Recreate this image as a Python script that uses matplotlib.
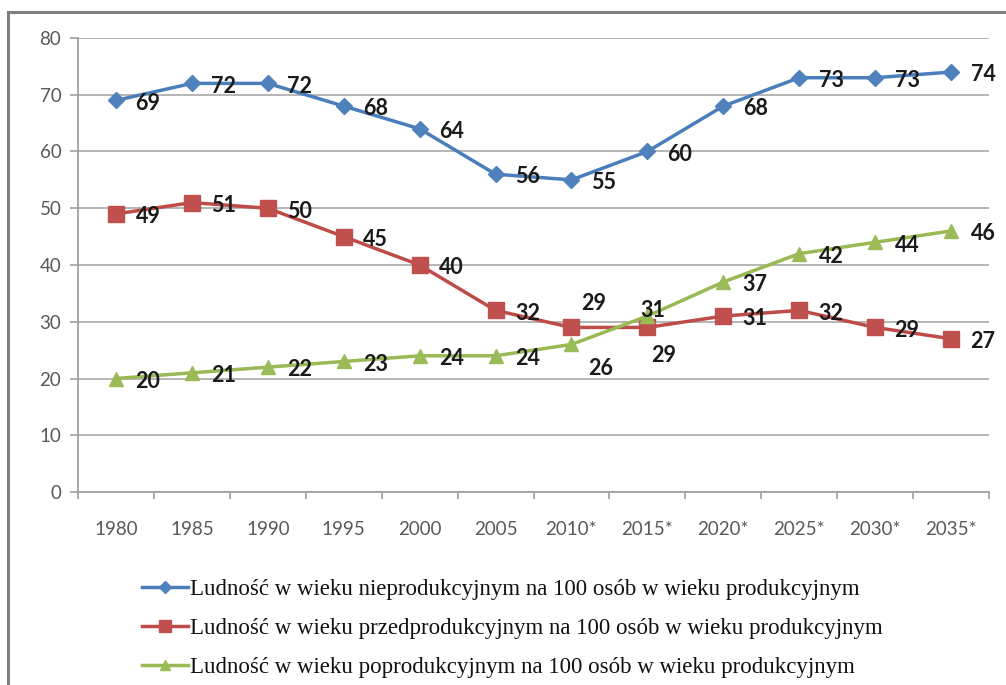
import numpy as np
import matplotlib.pyplot as plt
from matplotlib.lines import Line2D

# dane: liczba osob w wieku nieprodukcyjnym na 100 osob w wieku produkcyjnym
years = ['1980', '1985', '1990', '1995', '2000', '2005',
         '2010*', '2015*', '2020*', '2025*', '2030*', '2035*']
nieprod = [69, 72, 72, 68, 64, 56, 55, 60, 68, 73, 73, 74]
przedprod = [49, 51, 50, 45, 40, 32, 29, 29, 31, 32, 29, 27]
poprod = [20, 21, 22, 23, 24, 24, 26, 31, 37, 42, 44, 46]

labels = ['Ludność w wieku nieprodukcyjnym na 100 osób w wieku produkcyjnym',
          'Ludność w wieku przedprodukcyjnym na 100 osób w wieku produkcyjnym',
          'Ludność w wieku poprodukcyjnym na 100 osób w wieku produkcyjnym']

# przesuniecia etykiet (w punktach), domyslnie na prawo od punktu
default_off = (23, -2)
special_off = {
    ('przed', 6): (16, 17),
    ('przed', 7): (12, -20),
    ('po', 6): (21, -17),
    ('po', 7): (4, 4),
}

W, H = 1006, 685
fig = plt.figure(figsize=(W / 100, H / 100), dpi=100)
ax = fig.add_axes([78 / W, 1 - 492 / H, (989 - 78) / W, (492 - 38) / H])

x = np.arange(len(years))
series = [
    ('nie', nieprod, '#4A7EBB', '#4F81BD', 'D', 8),
    ('przed', przedprod, '#BE4B48', '#C0504D', 's', 11),
    ('po', poprod, '#98B954', '#9BBB59', '^', 10),
]

handles = []
for key, vals, lc, mc, mk, ms in series:
    ax.plot(x, vals, color=lc, lw=2.5, marker=mk, ms=ms, mfc=mc, mec=mc, zorder=3)
    handles.append(Line2D([], [], color=lc, lw=2.5, marker=mk, ms=ms * 0.75,
                          mfc=mc, mec=mc))
    for i, v in enumerate(vals):
        off = special_off.get((key, i), default_off)
        ax.annotate(str(v), (x[i], v), xytext=off, textcoords='offset points',
                    ha='center', va='center', fontsize=15.5, fontweight='bold',
                    family='Lato', color='#1a1a1a', zorder=4,
                    annotation_clip=False)

ax.set_xlim(-0.5, len(years) - 0.5)
ax.set_ylim(0, 80)
ax.set_yticks(range(0, 81, 10))
ax.set_xticks(x)
ax.set_xticklabels(years)
ax.set_xticks(np.arange(-0.5, len(years), 1), minor=True)
ax.tick_params(axis='x', which='major', length=0, pad=21)
ax.tick_params(axis='x', which='minor', length=5, color='#A0A0A0', width=1.2)
ax.tick_params(axis='y', length=6, color='#A0A0A0', width=1.2, pad=6)
for lab in ax.get_xticklabels() + ax.get_yticklabels():
    lab.set_family('Lato')
    lab.set_fontsize(13.5)
    lab.set_color('#595959')

ax.grid(axis='y', color='#B0B0B0', lw=1.3)
ax.set_axisbelow(True)
for s in ['top', 'right']:
    ax.spines[s].set_visible(False)
for s in ['left', 'bottom']:
    ax.spines[s].set_color('#A0A0A0')
    ax.spines[s].set_linewidth(1.3)

fig.legend(handles, labels, loc='upper left', bbox_to_anchor=(142 / W, 1 - 579 / H),
           frameon=False, prop={'family': 'Liberation Serif', 'size': 16.5},
           handlelength=2.0, handletextpad=0.1, labelspacing=0.78,
           borderpad=0, borderaxespad=0, labelcolor='#111111')

# ramka wykresu (gora i lewa krawedz)
fig.add_artist(Line2D([8 / W, 8 / W], [0, 1 - 12 / H], transform=fig.transFigure,
                      color='#7F7F7F', lw=2.2))
fig.add_artist(Line2D([8 / W, 1], [1 - 12 / H, 1 - 12 / H], transform=fig.transFigure,
                      color='#7F7F7F', lw=2.2))

fig.savefig('out.png', dpi=100)
